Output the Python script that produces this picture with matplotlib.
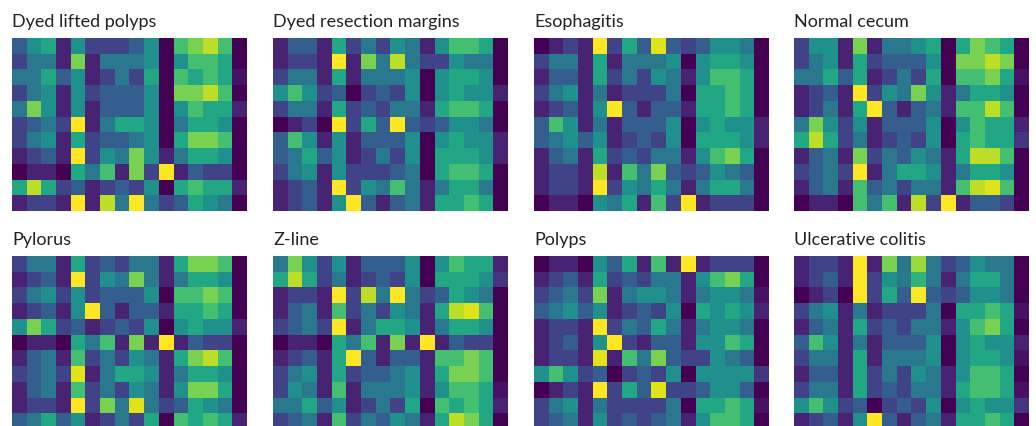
import numpy as np
import matplotlib.pyplot as plt

titles = ["Dyed lifted polyps", "Dyed resection margins", "Esophagitis", "Normal cecum",
          "Pylorus", "Z-line", "Polyps", "Ulcerative colitis"]

# values on a 0-10 scale, 11 rows x 16 columns per panel
dyed_lifted = [
    [3,5,6,1,5,2,2,2,3,5,0,7,8,9,7,0],
    [2,4,4,1,8,1,4,4,4,5,0,5,7,7,6,0],
    [4,4,6,3,5,1,2,4,2,6,0,7,6,7,6,0.5],
    [2,4,5,1,5,2,3,3,3,5,0,8,8,9,7,0],
    [4,8,5,1,5,1,3,3,3,5,0,5,7,6,6,1],
    [2,3,4,2,10,1,4,6,6,5,0,4,6,6,5,0],
    [2,4,5,1,6,2,3,3,4,5,0,6,8,8,7,0],
    [1,2,3,1,10,2,5,4,8,5,1,4,6,6,5,0],
    [0,1,1,0,6,4,7,1,8,2,10,1,3,2,2,0],
    [6,9,6,2,3,1,2,3,2,5,0,6,7,6,6,1],
    [1,2,2,1,10,1,9,4,10,4,2,3,6,5,4,0],
]
dyed_margins = [
    [1,3,3,1,6,2,4,2,5,4,1,5,7,7,6,0],
    [1,2,2,1,10,1,8,4,9,4,2,2,5,4,4,0],
    [2,4,4,1,6,1,4,4,4,5,0,5,6,6,5,0],
    [5,7,5,2,3,0,2,3,2,5,0,5,6,5,5,1],
    [2,4,4,1,6,2,3,2,4,4,1,6,7,7,6,0],
    [0,1,2,0,10,2,6,3,10,3,2,3,5,5,4,0],
    [3,7,5,1,5,1,3,3,3,5,0,5,6,5,5,1],
    [3,4,6,3,5,1,2,4,2,5,0,6,6,6,5,1],
    [2,4,5,1,5,2,2,2,3,4,0,6,7,7,6,0],
    [1,2,3,1,10,2,5,4,7,4,1,4,6,6,4,0],
    [1,2,3,1,5,10,3,1,3,4,1,6,6,7,6,0],
]
esophagitis = [
    [0,1,2,1,10,2,6,3,9.5,3,2,3,5,5,4,0],
    [2,4,4,1,6,1,4,4,4,5,0,5,6,6,5,0],
    [1,3,3,1,6,2,4,2,5,4,1,5,7,7,6,0],
    [2,4,5,1,4,1,2,2,2,4,0,6,6,7,6,0],
    [1,2,3,1,5,10,3,1,3,3,1,6,6,7,6,0],
    [3,7,5,1,4,1,3,3,3,5,0,5,6,5,5,1],
    [3,4,5,3,5,1,2,3,2,5,0,6,6,6,5,1],
    [1,3,4,1,6,2,3,2,4,4,1,5,7,8,6,0],
    [1,2,2,1,9,1,7,4,8,3,2,3,5,4,3,0],
    [1,2,2,1,10,2,5,4,6,4,1,4,6,6,4,0],
    [0,1,1,0,5,4,6,1,7,2,10,1,2,2,2,0],
]
normal_cecum = [
    [2,5,5,1,8,1,4,4,5,6,0,6,8,7,6,0],
    [2,4,5,1,6,2,3,3,3,5,0,8,8,9,8,0],
    [4,4,6,3,6,1,2,4,2,6,0,7,7,8,6,0.5],
    [1,2,3,1,10,2,5,4,8,5,1,4,6,6,5,0],
    [1,2,4,1,6,10,3,1,3,4,1,7,7,9,7,0],
    [4,8,5,2,5,1,3,3,3,5,0,5,7,6,6,1],
    [6,9,6,2,4,1,2,3,2,5,0,6,7,6,6,1.5],
    [1,3,4,1,8,2,4,3,5,4,1,6,9,9,7,0],
    [2,3,4,2,10,1,4,6,6,5,1,4,6,6,5,0],
    [1,3,4,1,7,3,4,2,4,4,1,7,9,9.5,7,0],
    [0,1,1,0,7,4,7,1,9,2,10,1,3,3,2,0],
]
pylorus = [
    [2,4,4,1,6,2,3,2,4,4,1,6,8,8,7,0],
    [1,2,3,1,10,2,5,4,8,4,1,4,6,6,5,0],
    [2,4,5,2,5,2,3,3,3,5,0,7,7,8,7,0],
    [1,2,3,1,5,10,3,1,3,3,1,6,6,7,6,0],
    [5,8,6,2,3,1,2,3,2,5,0,5,6,5,5,1],
    [0,1,1,0,6,4,7,1,8,1,10,1,3,2,2,0],
    [1,3,4,1,7,2,4,2,5,4,1,6,8,9,7,0],
    [2,3,4,2,9.5,1,4,6,6,5,1,4,6,6,5,0],
    [1,3,4,1,7,2,4,2,5,4,1,5,8,8,6,0],
    [1,2,2,1,10,2,8,4,9.5,4,2,3,6,5,4,0],
    [3,4,6,3,5,1,2,4,2,6,0,7,6,7,6,1],
]
z_line = [
    [4,8,5,2,5,1,3,3,3,5,0,5,7,6,6,1],
    [6,9,6,2,4,1,2,3,2,5,0,6,6,6,5,1.5],
    [1,2,2,1,10,2,9,4,10,4,2,3,6,5,4,0],
    [1,3,4,1,7,2,4,2,5,4,1,6,9,9.5,7,0],
    [2,3,4,2,10,1,4,6,6,5,1,4,6,6,5,0],
    [0,1,1,0,6,4,7,1,8,1,10,1,3,2,2,0],
    [1,2,3,1,6,10,3,1,3,3,1,7,7,8,7,0],
    [2,4,5,1,6,2,3,3,4,5,1,6,8,8,7,0],
    [2,5,4,1,7,1,4,4,4,5,1,5,7,7,6,0.5],
    [4,4,6,3,5,1,2,4,2,6,0,7,6,7,6,1],
    [2,3,4,1,7,2,4,3,5,4,1,6,9,8,6,0],
]
polyps = [
    [0,1,1,0,5,3,6,1,7,1,10,1,2,2,2,0],
    [1,2,3,1,6,2,3,2,4,4,1,5,7,8,6,0],
    [2,3,4,2,8,1,4,5,5,4,1,4,5,5,4,0.5],
    [3,4,5,3,5,1,2,3,2,5,0,6,5,6,5,1],
    [1,2,2,1,10,2,4,3,6,4,1,4,5,5,4,0],
    [1,2,3,1,5,10,2,1,3,3,1,5,5,7,6,0],
    [1,2,2,1,9.5,1,7,4,8,3,2,2,5,4,3,0],
    [5,7,5,2,3,0,2,3,2,5,0,5,5,5,5,1.5],
    [0,1,2,1,10,2,6,3,9.5,2,2,3,5,5,3,0],
    [2,4,5,1,4,2,2,2,2,4,0,6,6,7,6,0.5],
    [2,3,4,1,5,2,3,2,3,4,1,5,7,7,6,0],
]
ulcerative = [
    [1,2,2,1,10,1,8,4,8.5,4,2,3,5,4,4,0],
    [1,2,3,1,10,2,5,4,6.5,4,1,4,6,6,4,0],
    [0,1,2,0,10,2,6,3,10,3,2,3,5,5,4,0],
    [2,4,5,1,4,1,2,2,2,4,0,6,6,7,6,0.5],
    [1,3,4,1,6,2,3,2,4,4,1,5,7,8,6,0],
    [3,7,5,1,4,1,3,3,3,5,0,5,6,5,5,1],
    [2,4,4,1,6,1,4,4,4,5,0,5,6,6,5,0.5],
    [1,3,3,1,6,2,4,2,5,4,1,5,7,7,6,0],
    [2,4,4,1,6,2,3,2,4,4,1,6,7,7,6,0.5],
    [5,7,5,2,3,0,2,3,2,5,0,5,6,5,5,1.5],
    [1,2,3,1,5,10,3,1,3,4,1,6,6,7,6,0],
]

panels = [dyed_lifted, dyed_margins, esophagitis, normal_cecum,
          pylorus, z_line, polyps, ulcerative]

plt.rcParams['font.family'] = ['Lato', 'DejaVu Sans']

W, H = 1036, 426
fig = plt.figure(figsize=(W / 100, H / 100), dpi=100)

lefts = [12, 273, 534, 794]
tops = [38, 256]
aw, ah = 235, 173

for i, (name, vals) in enumerate(zip(titles, panels)):
    r, c = divmod(i, 4)
    ax = fig.add_axes([lefts[c] / W, 1 - (tops[r] + ah) / H, aw / W, ah / H])
    ax.imshow(np.array(vals), cmap='viridis', vmin=0, vmax=10,
              aspect='auto', interpolation='nearest')
    ax.set_xticks([])
    ax.set_yticks([])
    for s in ax.spines.values():
        s.set_visible(False)
    ax.set_title(name, loc='left', fontsize=13, color='#222222', pad=8)

fig.savefig('out.png', dpi=100)
